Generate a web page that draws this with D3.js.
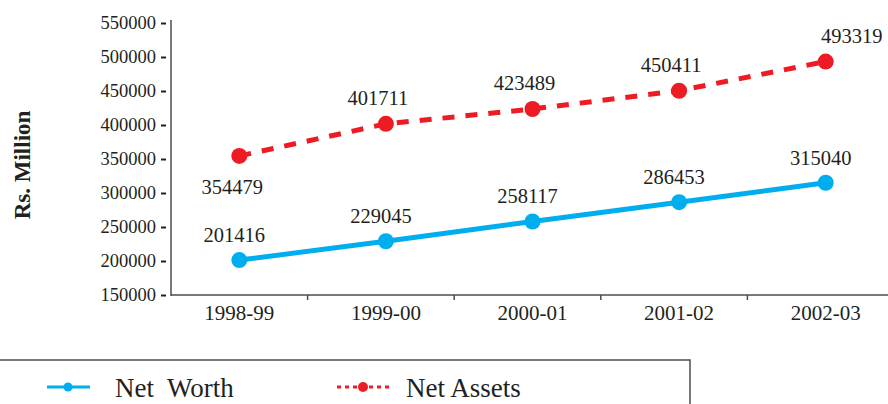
<!DOCTYPE html>
<html>
<head>
<meta charset="utf-8">
<script src="https://cdn.jsdelivr.net/npm/d3@7"></script>
<style>
  body { margin: 0; background: #fff; }
  text { font-family: "Liberation Serif", "Times New Roman", serif; fill: #231f20; }
</style>
</head>
<body>
<script>
const WIDTH = 888;
const HEIGHT = 404;

const years = ["1998-99", "1999-00", "2000-01", "2001-02", "2002-03"];
const netWorth = [201416, 229045, 258117, 286453, 315040];
const netAssets = [354479, 401711, 423489, 450411, 493319];
const yTicks = [150000, 200000, 250000, 300000, 350000, 400000, 450000, 500000, 550000];

const BLUE = "#00aeef";
const RED = "#ed1c24";
const AXIS = "#4d4d4d";
const FONT = "'Liberation Serif', 'Times New Roman', serif";

function main(){
    let svg = d3.select("body")
        .append("svg")
        .attr("width",WIDTH)
        .attr("height",HEIGHT);

    let x = d3.scaleBand()
        .domain(years)
        .range([166,899])
        .paddingInner(0)
        .paddingOuter(0);
    let y = d3.scaleLinear()
        .domain([150000,550000])
        .range([295,23]);
    let cx = d => x(d) + x.bandwidth()/2;

    // y axis
    let yAxis = svg.append("g")
        .attr("transform","translate(171,0)")
        .call(d3.axisLeft(y).tickValues(yTicks).tickFormat(d3.format("d")).tickSize(10).tickPadding(5))
        .attr("font-family",FONT);
    yAxis.select(".domain").remove();
    yAxis.selectAll(".tick line")
        .attr("x1",-5)
        .attr("stroke","#231f20")
        .attr("stroke-width",2);
    yAxis.selectAll(".tick text")
        .style("font-size","18.5px")
        .style("font-family",FONT)
        .attr("fill","#231f20");
    svg.append("line")
        .attr("x1",171).attr("x2",171)
        .attr("y1",20).attr("y2",296)
        .attr("stroke",AXIS).attr("stroke-width",1.5);

    // x axis
    let xAxis = svg.append("g")
        .attr("transform","translate(0,295)")
        .call(d3.axisBottom(x).tickSize(0).tickPadding(10))
        .attr("font-family",FONT);
    xAxis.select(".domain").remove();
    xAxis.selectAll(".tick text")
        .style("font-size","21px")
        .style("font-family",FONT)
        .attr("fill","#231f20");
    svg.append("line")
        .attr("x1",171).attr("x2",WIDTH)
        .attr("y1",295).attr("y2",295)
        .attr("stroke",AXIS).attr("stroke-width",1.5);
    svg.selectAll(".xsep")
        .data(years.slice(1))
        .enter()
        .append("line")
        .attr("class","xsep")
        .attr("x1",d => x(d) - 5).attr("x2",d => x(d) - 5)
        .attr("y1",295).attr("y2",300)
        .attr("stroke",AXIS).attr("stroke-width",1.5);

    // y title
    svg.append("text")
        .attr("transform","translate(30,165) rotate(-90)")
        .attr("text-anchor","middle")
        .style("font-size","23px")
        .style("font-weight","bold")
        .text("Rs. Million");

    let line = d3.line()
        .x((d,i) => cx(years[i]))
        .y(d => y(d));

    // net assets
    svg.append("path")
        .datum(netAssets)
        .attr("d",line)
        .attr("fill","none")
        .attr("stroke",RED)
        .attr("stroke-width",5)
        .attr("stroke-dasharray","12,11");
    svg.selectAll(".pa")
        .data(netAssets)
        .enter()
        .append("circle")
        .attr("class","pa")
        .attr("cx",(d,i) => cx(years[i]))
        .attr("cy",d => y(d))
        .attr("r",8)
        .attr("fill",RED);
    svg.selectAll(".la")
        .data(netAssets)
        .enter()
        .append("text")
        .attr("class","la")
        .attr("x",(d,i) => cx(years[i]) + (i === 0 ? -7 : i === 4 ? 26 : -8))
        .attr("y",(d,i) => y(d) + (i === 0 ? 38 : -19))
        .attr("text-anchor","middle")
        .style("font-size","20.5px")
        .text(d => d);

    // net worth
    svg.append("path")
        .datum(netWorth)
        .attr("d",line)
        .attr("fill","none")
        .attr("stroke",BLUE)
        .attr("stroke-width",5);
    svg.selectAll(".pw")
        .data(netWorth)
        .enter()
        .append("circle")
        .attr("class","pw")
        .attr("cx",(d,i) => cx(years[i]))
        .attr("cy",d => y(d))
        .attr("r",8)
        .attr("fill",BLUE);
    svg.selectAll(".lw")
        .data(netWorth)
        .enter()
        .append("text")
        .attr("class","lw")
        .attr("x",(d,i) => cx(years[i]) - 5)
        .attr("y",d => y(d) - 18)
        .attr("text-anchor","middle")
        .style("font-size","20.5px")
        .text(d => d);

    // legend
    svg.append("path")
        .attr("d","M-2,360 H690 V406")
        .attr("fill","none")
        .attr("stroke",AXIS)
        .attr("stroke-width",1.5);
    let leg = svg.append("g");
    leg.append("line")
        .attr("x1",47).attr("x2",90).attr("y1",387).attr("y2",387)
        .attr("stroke",BLUE).attr("stroke-width",3);
    leg.append("circle").attr("cx",68).attr("cy",387).attr("r",4.5).attr("fill",BLUE);
    leg.append("text")
        .attr("x",115).attr("y",397)
        .style("font-size","27px")
        .style("white-space","pre")
        .text("Net  Worth");
    leg.append("line")
        .attr("x1",337).attr("x2",389).attr("y1",387).attr("y2",387)
        .attr("stroke",RED).attr("stroke-width",3)
        .attr("stroke-dasharray","4,4");
    leg.append("circle").attr("cx",363).attr("cy",387).attr("r",5).attr("fill",RED);
    leg.append("text")
        .attr("x",406).attr("y",397)
        .style("font-size","27px")
        .text("Net Assets");
}

window.addEventListener("load",main);
</script>
</body>
</html>
